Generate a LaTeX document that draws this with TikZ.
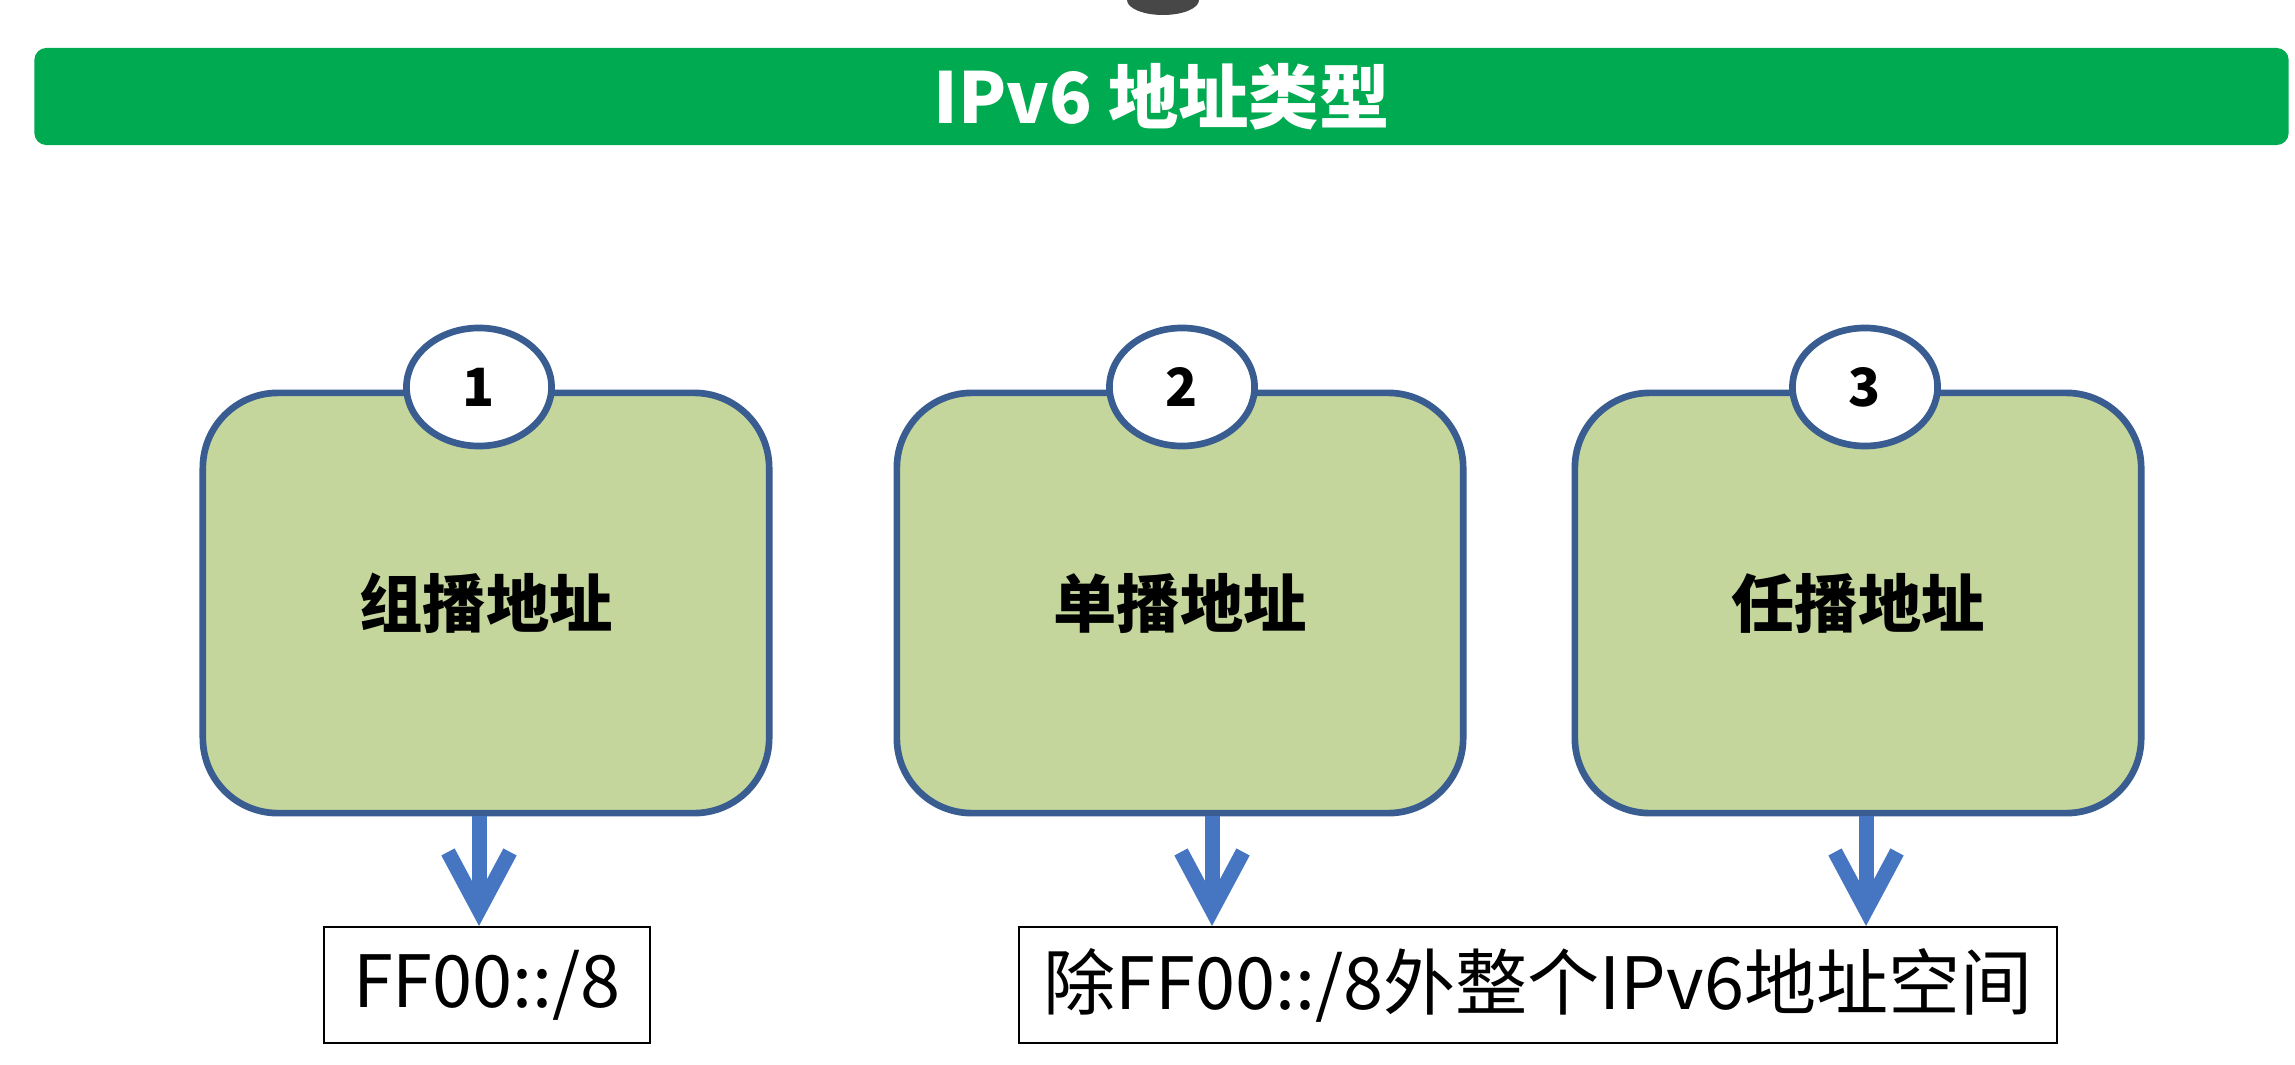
\documentclass[tikz,border=0pt]{standalone}
\usepackage{fontspec}
\setmainfont{Noto Sans CJK SC}
\usetikzlibrary{arrows.meta,shapes.geometric}
\definecolor{titlegreen}{RGB}{0,170,80}
\definecolor{boxgreen}{RGB}{196,214,156}
\definecolor{boxblue}{RGB}{58,93,145}
\definecolor{arrowblue}{RGB}{70,118,194}
\tikzset{
  titlebar/.style={fill=titlegreen, rounded corners=0.12cm, minimum width=22.53cm, minimum height=0.97cm, inner sep=0pt, text=white, font=\bfseries\fontsize{20}{24}\selectfont},
  typebox/.style={draw=boxblue, line width=1.9pt, fill=boxgreen, rounded corners=0.75cm, minimum width=5.66cm, minimum height=4.2cm, inner sep=0pt, font=\bfseries\fontsize{18}{22}\selectfont},
  numcirc/.style={ellipse, draw=boxblue, line width=1.9pt, fill=white, minimum width=1.45cm, minimum height=1.18cm, inner sep=0pt, font=\bfseries\fontsize{15}{18}\selectfont},
  addrbox/.style={draw=black, line width=0.6pt, fill=white, minimum height=1.16cm, inner sep=0pt, font=\fontsize{20.5}{24}\selectfont},
  arr/.style={draw=arrowblue, line width=0.15cm, -{Straight Barb[length=0.58cm, width=0.62cm]}}
}
\begin{document}
\begin{tikzpicture}[x=0.01cm, y=-0.01cm]
\useasboundingbox (0,0) rectangle (2295,1064);
\fill[white] (0,0) rectangle (2295,1064);
% partially visible dark object at top edge
\fill[black!72] (1163,0) ellipse (36 and 15);

\node[titlebar] (title) at (1161.5,96.5) {IPv6 地址类型};

\node[typebox] (b1) at (486,603) {组播地址};
\node[typebox] (b2) at (1180,603) {单播地址};
\node[typebox] (b3) at (1858,603) {任播地址};

\node[numcirc] (n1) at (479,387) {1};
\node[numcirc] (n2) at (1182,387) {2};
\node[numcirc] (n3) at (1865,387) {3};

\node[addrbox, minimum width=3.25cm] (a1) at (487,985) {FF00::/8};
\node[addrbox, minimum width=10.37cm] (a2) at (1538,985) {除FF00::/8外整个IPv6地址空间};

\coordinate (x1) at (479,0);
\coordinate (x2) at (1212,0);
\coordinate (x3) at (1866,0);

\draw[arr] (b1.south -| x1) -- (a1.north -| x1);
\draw[arr] (b2.south -| x2) -- (a2.north -| x2);
\draw[arr] (b3.south -| x3) -- (a2.north -| x3);
\end{tikzpicture}
\end{document}
